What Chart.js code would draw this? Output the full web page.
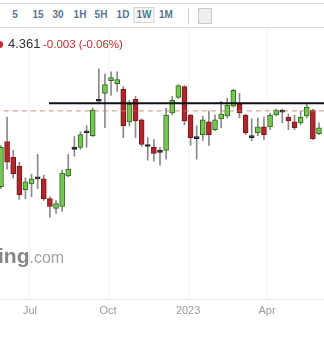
<!DOCTYPE html>
<html>
<head>
<meta charset="utf-8">
<script src="https://cdn.jsdelivr.net/npm/chart.js@4.4.0/dist/chart.umd.min.js"></script>
<style>
  html, body { margin: 0; padding: 0; background: #fff; }
  body { width: 324px; height: 338px; position: relative; overflow: hidden; font-family: "Liberation Sans", Arial, sans-serif; }
  #wrap { position: absolute; left: 0; top: 0; width: 324px; height: 338px; }
  .toolbar { position: absolute; left: 0; top: 0; width: 324px; height: 28px; background: #fff; }
  .toolbar .ln { position: absolute; left: 0; width: 324px; height: 1px; background: #dcdcdc; }
  .toolbar .btn { position: absolute; top: 9px; font-size: 10px; font-weight: bold; color: #5a7690; transform: translateX(-50%); line-height: 12px; }
  .toolbar .on { border: 1px solid #d6d6d6; padding: 1px 2px; top: 7px; background: #f7f7f7; }
  .toolbar .sep { position: absolute; left: 188px; top: 8px; width: 1px; height: 16px; background: #d0d0d0; }
  .toolbar .ico { position: absolute; left: 198px; top: 8px; width: 12px; height: 14px; border: 1px solid #c8c8c8; background: #eee; }
  .price { position: absolute; left: 0; top: 36px; white-space: nowrap; }
  .price .dot { position: absolute; left: -4px; top: 5px; width: 7px; height: 7px; border-radius: 50%; background: #c8282d; }
  .price .last { position: absolute; left: 8px; top: 0; font-size: 13px; color: #333; }
  .price .chg { position: absolute; left: 43px; top: 2px; font-size: 11.5px; color: #c8282d; }
  .wm { position: absolute; left: -2px; top: 244px; color: #878787; white-space: nowrap; }
  .wm b { font-size: 21px; font-weight: bold; }
  .wm span { font-size: 16px; color: #a2a2a2; }
</style>
</head>
<body>
<div id="wrap"><canvas id="candleChart" width="324" height="338"></canvas></div>
<div class="toolbar">
  <div class="ln" style="top:3px"></div>
  <div class="ln" style="top:27px"></div>
  <div class="btn" style="left:15px">5</div>
  <div class="btn" style="left:38px">15</div>
  <div class="btn" style="left:58px">30</div>
  <div class="btn" style="left:80px">1H</div>
  <div class="btn" style="left:101px">5H</div>
  <div class="btn" style="left:123px">1D</div>
  <div class="btn on" style="left:144px">1W</div>
  <div class="btn" style="left:166px">1M</div>
  <div class="sep"></div>
  <div class="ico"></div>
</div>
<div class="price">
  <div class="dot"></div>
  <div class="last">4.361</div>
  <div class="chg">-0.003 (-0.06%)</div>
</div>
<div class="wm"><b>ing</b><span>.com</span></div>
<script>
// weekly candles, index 0 = first visible week
const opens  = [3.975, 4.205, 4.125, 4.080, 3.960, 3.990, 4.025, 4.015, 3.915, 3.865,
                3.875, 4.030, 4.175, 4.175, 4.260, 4.235, 4.420, 4.450, 4.515, 4.500,
                4.470, 4.305, 4.420, 4.315, 4.190, 4.175, 4.160, 4.160, 4.350, 4.430,
                4.485, 4.340, 4.230, 4.240, 4.305, 4.265, 4.320, 4.335, 4.385, 4.395,
                4.340, 4.235, 4.250, 4.280, 4.280, 4.340, 4.365, 4.330, 4.305, 4.300,
                4.335, 4.365, 4.245];
const highs  = [4.185, 4.330, 4.160, 4.100, 4.020, 4.040, 4.140, 4.035, 3.925, 3.905,
                4.060, 4.140, 4.230, 4.255, 4.285, 4.375, 4.575, 4.550, 4.560, 4.560,
                4.485, 4.415, 4.435, 4.320, 4.225, 4.215, 4.175, 4.375, 4.435, 4.495,
                4.490, 4.345, 4.285, 4.335, 4.360, 4.340, 4.410, 4.425, 4.470, 4.450,
                4.345, 4.320, 4.325, 4.330, 4.350, 4.370, 4.370, 4.345, 4.340, 4.360,
                4.395, 4.370, 4.300];
const lows   = [3.965, 4.065, 4.020, 3.910, 3.915, 3.925, 3.965, 3.905, 3.820, 3.840,
                3.850, 4.025, 4.130, 4.165, 4.175, 4.230, 4.400, 4.275, 4.440, 4.460,
                4.225, 4.285, 4.225, 4.180, 4.110, 4.105, 4.085, 4.115, 4.340, 4.425,
                4.290, 4.185, 4.115, 4.210, 4.185, 4.260, 4.275, 4.325, 4.380, 4.325,
                4.240, 4.210, 4.235, 4.215, 4.265, 4.335, 4.300, 4.265, 4.265, 4.290,
                4.325, 4.215, 4.240];
const closes = [4.175, 4.100, 4.040, 3.935, 4.000, 4.015, 4.015, 3.915, 3.875, 3.890,
                4.045, 4.065, 4.165, 4.240, 4.250, 4.365, 4.410, 4.495, 4.530, 4.520,
                4.285, 4.395, 4.310, 4.190, 4.180, 4.145, 4.150, 4.340, 4.415, 4.490,
                4.310, 4.225, 4.220, 4.315, 4.240, 4.315, 4.345, 4.390, 4.465, 4.350,
                4.250, 4.225, 4.280, 4.240, 4.340, 4.365, 4.355, 4.310, 4.275, 4.330,
                4.380, 4.220, 4.275];

// x axis labels (positions in weeks from first candle)
const tickLabels = ['Jul', 'Oct', '2023', 'Apr'];
const tickPos    = [4.74, 17.5, 30.6, 43.5];

const lastPrice = 4.361;   // dashed line
const levelPrice = 4.40;   // drawn horizontal line
const levelStart = 7.85;

const bodies = opens.map((o, i) => ({ x: i, y: [o, closes[i]] }));
const wicks  = lows.map((l, i) => ({ x: i, y: [l, highs[i]] }));

function candleKind(i) {
  const d = closes[i] - opens[i];
  if (Math.abs(d) <= 0.0101) return 'doji';
  return d > 0 ? 'up' : 'down';
}
const fillColors   = { up: '#76c552', down: '#b1262b', doji: '#2b2b2b' };
const borderColors = { up: '#2f6e1c', down: '#7c1719', doji: '#222222' };

const ctx = document.getElementById('candleChart').getContext('2d');
const candleChart = new Chart(ctx, {
  type: 'bar',
  data: {
    datasets: [
      {
        // wicks
        data: wicks,
        backgroundColor: '#8a8a8a',
        barThickness: 1,
        grouped: false,
        order: 3
      },
      {
        // bodies
        data: bodies,
        backgroundColor: ctx => fillColors[candleKind(ctx.dataIndex)],
        borderColor: ctx => borderColors[candleKind(ctx.dataIndex)],
        borderWidth: 1,
        borderSkipped: false,
        barThickness: 5,
        grouped: false,
        order: 2
      },
      {
        type: 'line',
        data: [{ x: -1, y: lastPrice }, { x: 60, y: lastPrice }],
        borderColor: 'rgba(175, 130, 110, 0.85)',
        borderWidth: 1,
        borderDash: [5, 4],
        pointRadius: 0,
        order: 1
      },
      {
        type: 'line',
        data: [{ x: levelStart, y: levelPrice }, { x: 60, y: levelPrice }],
        borderColor: '#111',
        borderWidth: 2,
        pointRadius: 0,
        order: 0
      }
    ]
  },
  options: {
    responsive: false,
    animation: false,
    layout: { padding: { left: 0, right: 0, top: 0, bottom: 15 } },
    plugins: { legend: { display: false }, tooltip: { enabled: false } },
    scales: {
      x: {
        type: 'linear',
        offset: false,
        min: -0.16,
        max: 52.82,
        afterBuildTicks: scale => { scale.ticks = tickPos.map(v => ({ value: v })); },
        ticks: {
          autoSkip: false,
          maxRotation: 0,
          padding: 5,
          color: '#9a9a9a',
          font: { family: 'Liberation Sans', size: 11 },
          callback: (v, i) => tickLabels[i]
        },
        grid: { color: '#f3f3f3', drawTicks: false, offset: false },
        border: { color: '#ececec' }
      },
      y: {
        display: false,
        min: 3.40,
        max: 4.925
      }
    }
  }
});
</script>
</body>
</html>
